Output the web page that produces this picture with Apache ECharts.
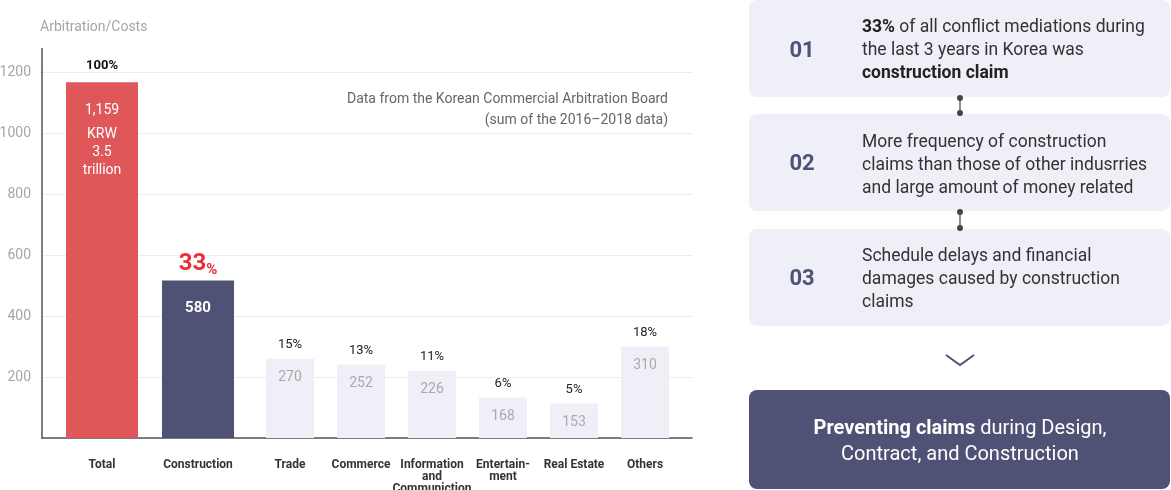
<!DOCTYPE html>
<html><head><meta charset="utf-8">
<script src="https://cdn.jsdelivr.net/npm/echarts@6/dist/echarts.min.js"></script>
<style>html,body{margin:0;padding:0;background:#fff}#c{width:1171px;height:490px}</style>
</head><body><div id="c"></div>
<script>
// ---- data ----
const mainCategories = ['Total', 'Construction'];
const mainValues = [1166, 516];              // bar heights as drawn
const mainPct = ['100%', '33%'];
const mainValueLabels = ['1,159\nKRW\n3.5\ntrillion', '580'];
const otherCategories = ['Trade', 'Commerce', 'Information\nand\nCommuniction', 'Entertain-\nment', 'Real Estate', 'Others'];
const otherValues = [260, 241, 220, 133, 113, 300]; // bar heights as drawn
const otherPct = ['15%', '13%', '11%', '6%', '5%', '18%'];
const otherValueLabels = ['270', '252', '226', '168', '153', '310'];
const yTicks = [200, 400, 600, 800, 1000, 1200];

const FONT = 'Roboto';
const NAVY = '#4f5275';
const RED = '#df5758';
const LIGHT = '#eeeff7';

const chart = echarts.init(document.getElementById('c'), null, {renderer: 'canvas'});

const mainData = mainValues.map((v, i) => {
  let label;
  if (i === 0) {
    const parts = mainValueLabels[i].split('\n');
    label = {
      show: true, position: 'insideTop', distance: 13,
      formatter: parts.map((p, k) => (k === 0 ? '{a|' + p + '}' : '{t|' + p + '}')).join('\n'),
      rich: {
        a: {color: '#fff', fontSize: 14, lineHeight: 30, fontFamily: FONT},
        t: {color: '#fff', fontSize: 14, lineHeight: 18, fontFamily: FONT}
      }
    };
  } else {
    label = {
      show: true, position: 'insideTop', distance: 19,
      formatter: mainValueLabels[i], color: '#fff', fontSize: 15, fontWeight: 'bold', lineHeight: 18, fontFamily: FONT
    };
  }
  return {value: v, itemStyle: {color: i === 0 ? RED : NAVY}, label};
});

const mainPctData = mainValues.map((v, i) => {
  if (i === 0) {
    return {value: v, label: {show: true, position: 'top', distance: 9, formatter: mainPct[i],
      color: '#111', fontSize: 13, fontWeight: 'bold', lineHeight: 16, fontFamily: FONT}};
  }
  const num = mainPct[i].replace('%', '');
  return {value: v, label: {show: true, position: 'top', distance: 3,
    formatter: '{n|' + num + '}{p|%}',
    rich: {
      n: {color: '#e8303a', fontSize: 24, fontWeight: 'bold', lineHeight: 28, fontFamily: FONT},
      p: {color: '#e8303a', fontSize: 15, fontWeight: 'bold', lineHeight: 20, verticalAlign: 'bottom', fontFamily: FONT}
    }}};
});

const axisLineStyle = {color: '#555', width: 1.5};
const catLabel = {margin: 21, fontSize: 12, fontWeight: 'bold', color: '#333', lineHeight: 12, interval: 0, fontFamily: FONT};

const option = {
  animation: false,
  textStyle: {fontFamily: FONT},
  grid: [
    {left: 42, right: 479, top: 72, bottom: 52, outerBoundsMode: 'none', containLabel: false},
    {left: 54, width: 192, top: 72, bottom: 52, outerBoundsMode: 'none', containLabel: false},
    {left: 254.5, width: 426, top: 72, bottom: 52, outerBoundsMode: 'none', containLabel: false}
  ],
  xAxis: [
    {gridIndex: 0, type: 'value', min: 0, max: 1, axisLine: {show: true, onZero: false, lineStyle: axisLineStyle},
      axisTick: {show: false}, axisLabel: {show: false}, splitLine: {show: false}},
    {gridIndex: 1, type: 'category', data: mainCategories, axisLine: {show: false}, axisTick: {show: false}, axisLabel: catLabel},
    {gridIndex: 2, type: 'category', data: otherCategories, axisLine: {show: false}, axisTick: {show: false}, axisLabel: catLabel}
  ],
  yAxis: [
    {gridIndex: 0, type: 'value', min: 0, max: 1200, interval: 200,
      axisLine: {show: true, onZero: false, lineStyle: axisLineStyle}, axisTick: {show: false},
      axisLabel: {margin: 11, fontSize: 14, color: '#a6a6a6', fontFamily: FONT, formatter: v => (yTicks.includes(v) ? String(v) : '')},
      splitLine: {lineStyle: {color: '#ececec', width: 1}}},
    {gridIndex: 1, type: 'value', min: 0, max: 1200, show: false, splitLine: {show: false}},
    {gridIndex: 2, type: 'value', min: 0, max: 1200, show: false, splitLine: {show: false}}
  ],
  series: [
    {type: 'bar', xAxisIndex: 1, yAxisIndex: 1, barWidth: 72, data: mainData},
    {type: 'bar', xAxisIndex: 1, yAxisIndex: 1, barWidth: 72, barGap: '-100%', silent: true,
      itemStyle: {color: 'rgba(0,0,0,0)'}, data: mainPctData},
    {type: 'bar', xAxisIndex: 2, yAxisIndex: 2, barWidth: 48,
      itemStyle: {color: LIGHT},
      label: {show: true, position: 'insideTop', distance: 10, color: '#aaa', fontSize: 14, lineHeight: 18, fontFamily: FONT,
        formatter: p => otherValueLabels[p.dataIndex]},
      data: otherValues},
    {type: 'bar', xAxisIndex: 2, yAxisIndex: 2, barWidth: 48, barGap: '-100%', silent: true,
      itemStyle: {color: 'rgba(0,0,0,0)'},
      label: {show: true, position: 'top', distance: 6, color: '#222', fontSize: 13, lineHeight: 16, fontFamily: FONT,
        formatter: p => otherPct[p.dataIndex]},
      data: otherValues}
  ],
  graphic: [
    {type: 'line', shape: {x1: 42, y1: 48, x2: 42, y2: 73}, style: {stroke: '#555', lineWidth: 1.5}},
    {type: 'text', x: 40, y: 27, style: {text: 'Arbitration/Costs', fill: '#a6a6a6', font: '14px ' + FONT, verticalAlign: 'middle'}},
    {type: 'text', x: 668, y: 99, style: {text: 'Data from the Korean Commercial Arbitration Board', fill: '#666', font: '14px ' + FONT, align: 'right', verticalAlign: 'middle'}},
    {type: 'text', x: 668, y: 120, style: {text: '(sum of the 2016\u20132018 data)', fill: '#666', font: '14px ' + FONT, align: 'right', verticalAlign: 'middle'}},

    // right panel boxes
    {type: 'rect', shape: {x: 749, y: 0, width: 421, height: 97, r: 8}, style: {fill: LIGHT}},
    {type: 'rect', shape: {x: 749, y: 114, width: 421, height: 97, r: 8}, style: {fill: LIGHT}},
    {type: 'rect', shape: {x: 749, y: 229, width: 421, height: 97, r: 8}, style: {fill: LIGHT}},
    {type: 'rect', shape: {x: 749, y: 390, width: 421, height: 99, r: 8}, style: {fill: NAVY}},

    // connectors
    {type: 'line', shape: {x1: 960, y1: 98, x2: 960, y2: 113}, style: {stroke: '#444', lineWidth: 1.2}},
    {type: 'circle', shape: {cx: 960, cy: 98, r: 3}, style: {fill: '#444'}},
    {type: 'circle', shape: {cx: 960, cy: 113, r: 3}, style: {fill: '#444'}},
    {type: 'line', shape: {x1: 960, y1: 212, x2: 960, y2: 228}, style: {stroke: '#444', lineWidth: 1.2}},
    {type: 'circle', shape: {cx: 960, cy: 212, r: 3}, style: {fill: '#444'}},
    {type: 'circle', shape: {cx: 960, cy: 228, r: 3}, style: {fill: '#444'}},

    // numbers
    {type: 'text', x: 802, y: 51, style: {text: '01', fill: NAVY, font: 'bold 22px ' + FONT, align: 'center', verticalAlign: 'middle'}},
    {type: 'text', x: 802, y: 164, style: {text: '02', fill: NAVY, font: 'bold 22px ' + FONT, align: 'center', verticalAlign: 'middle'}},
    {type: 'text', x: 802, y: 279, style: {text: '03', fill: NAVY, font: 'bold 22px ' + FONT, align: 'center', verticalAlign: 'middle'}},

    // box texts
    {type: 'text', x: 862, y: 51, style: {
      text: '{b|33%}{n| of all conflict mediations during}\n{n|the last 3 years in Korea was}\n{b|construction claim}',
      verticalAlign: 'middle', align: 'left',
      rich: {
        n: {fill: '#333', fontSize: 17.5, lineHeight: 23, fontFamily: FONT},
        b: {fill: '#222', fontSize: 17.5, lineHeight: 23, fontWeight: 'bold', fontFamily: FONT}
      }}},
    {type: 'text', x: 862, y: 166, style: {
      text: 'More frequency of construction\nclaims than those of other indusrries\nand large amount of money related',
      fill: '#333', font: '17.5px ' + FONT, lineHeight: 23, verticalAlign: 'middle', align: 'left'}},
    {type: 'text', x: 862, y: 280, style: {
      text: 'Schedule delays and financial\ndamages caused by construction\nclaims',
      fill: '#333', font: '17.5px ' + FONT, lineHeight: 23, verticalAlign: 'middle', align: 'left'}},

    // chevron
    {type: 'polyline', shape: {points: [[946, 355], [960, 365], [974, 355]]}, style: {stroke: NAVY, lineWidth: 2, fill: null}},

    // bottom box text
    {type: 'text', x: 960, y: 442, style: {
      text: '{b|Preventing claims}{n| during Design,}\n{n|Contract, and Construction}',
      align: 'center', verticalAlign: 'middle',
      rich: {
        n: {fill: '#fff', fontSize: 20, lineHeight: 26, fontFamily: FONT},
        b: {fill: '#fff', fontSize: 20, lineHeight: 26, fontWeight: 'bold', fontFamily: FONT}
      }}}
  ]
};
chart.setOption(option);
</script>
</body></html>
